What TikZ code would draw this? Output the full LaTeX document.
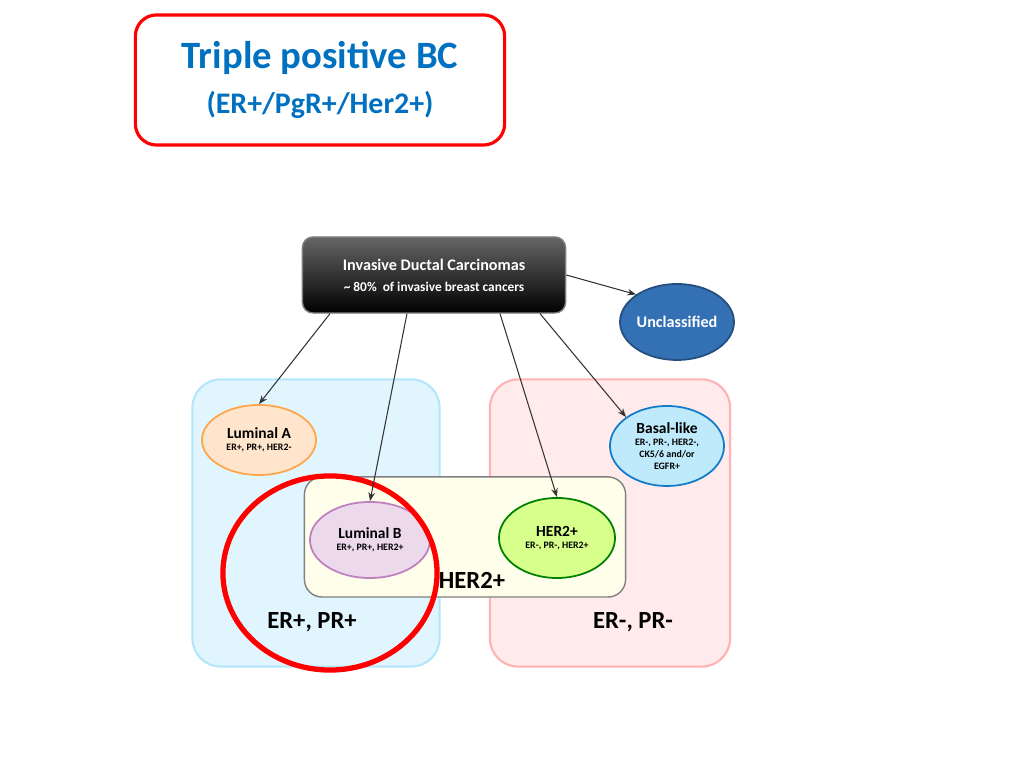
\documentclass[tikz,border=0pt]{standalone}
\usepackage{fontspec}
\setmainfont{Carlito}
\usetikzlibrary{arrows.meta, positioning, shapes.geometric}
\definecolor{titleblue}{RGB}{0,112,192}
\definecolor{unclblue}{RGB}{52,112,180}

\begin{document}
\begin{tikzpicture}[x=0.01cm, y=-0.01cm,
        group/.style={rectangle, draw, rounded corners=8pt, line width=0.6pt},
        subtype/.style={ellipse, draw, line width=0.5pt, align=center, inner sep=0pt, font=\bfseries\fontsize{2.8}{3.4}\selectfont},
        arrow/.style={-{Stealth[length=2.5pt]}, line width=0.3pt, black!80},
        note/.style={font=\bfseries\fontsize{7}{8}\selectfont}
        ]
        \useasboundingbox (0,0) rectangle (1024,768);

        % Title
        \node (title) [draw=red, line width=0.9pt, rounded corners=6pt, minimum width=3.69cm, minimum height=1.3cm, align=center, text=titleblue] at (320,80)
            {{\bfseries\fontsize{11}{13}\selectfont Triple positive BC}\\[1pt]{\bfseries\fontsize{8.5}{10}\selectfont (ER+/PgR+/Her2+)}};

        % Groups
        \node (erpos) [group, draw=cyan!30, fill=cyan!12, minimum width=2.47cm, minimum height=2.87cm] at (316,523) {};
        \node (erneg) [group, draw=red!30, fill=red!8, minimum width=2.4cm, minimum height=2.87cm] at (610,523) {};
        \node (her2box) [rectangle, rounded corners=5pt, draw=gray, fill=yellow!8, minimum width=3.21cm, minimum height=1.2cm] at (465,537) {};

        % Top and subtypes
        \node (idc) [rectangle, rounded corners=3pt, draw=gray, top color=gray!80!black, bottom color=black, text=white, align=center, minimum width=2.63cm, minimum height=0.76cm, font=\bfseries\fontsize{4.6}{6}\selectfont] at (434,275)
            {Invasive Ductal Carcinomas\\{\fontsize{3.8}{5}\selectfont \textasciitilde{} 80\%\ \ of invasive breast cancers}};
        \node (uncl) [subtype, fill=unclblue, draw=unclblue!70!black, text=white, minimum width=1.06cm, minimum height=0.76cm, font=\bfseries\fontsize{4.6}{6}\selectfont] at (677,322) {Unclassified};
        \node (luma) [subtype, fill=orange!20, draw=orange!70, minimum width=1.14cm, minimum height=0.7cm] at (259,440) {{\fontsize{4.4}{5}\selectfont Luminal A}\\ER+, PR+,\ HER2-};
        \node (basal) [subtype, fill=cyan!25, draw=cyan!60!blue, minimum width=1.14cm, minimum height=0.8cm] at (667,446) {{\fontsize{4.4}{5}\selectfont Basal-like}\\ER-, PR-, HER2-,\\CK5/6 and/or\\EGFR+};
        \node (lumb) [subtype, fill=violet!15, draw=violet!50, minimum width=1.2cm, minimum height=0.76cm] at (370,540) {{\fontsize{4.4}{5}\selectfont Luminal B}\\ER+, PR+,\ HER2+};
        \node (her2) [subtype, fill=green!35!yellow!45, draw=green!50!black, minimum width=1.16cm, minimum height=0.8cm] at (557,538) {{\fontsize{4.4}{5}\selectfont HER2+}\\ER-, PR-, HER2+};

        % Labels
        \node (her2lbl) [note] at (472,580) {HER2+};
        \node (poslbl) [note] at (312,622) {ER+, PR+};
        \node (neglbl) [note] at (633,622) {ER-, PR-};

        % Highlight
        \node (mark) [ellipse, draw=red, line width=1.5pt, minimum width=2.14cm, minimum height=1.94cm] at (330,573) {};

        % Arrows
        \draw [arrow] ([xshift=-1.04cm]idc.south) -- (luma.north);
        \draw [arrow] ([xshift=-0.27cm]idc.south) -- (lumb.north);
        \draw [arrow] ([xshift=0.66cm]idc.south) -- (her2.north);
        \draw [arrow] ([xshift=1.06cm]idc.south) -- (basal.north west);
        \draw [arrow] (idc.east) -- (uncl.north west);
    \end{tikzpicture}
\end{document}
